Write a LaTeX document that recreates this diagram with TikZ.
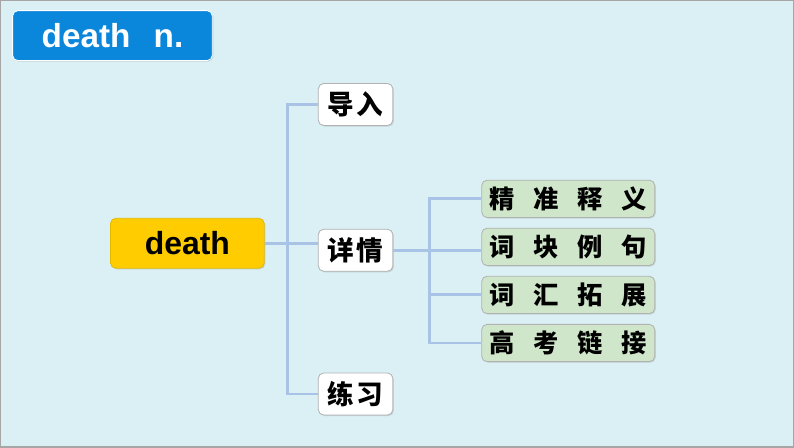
\documentclass[tikz,border=0pt]{standalone}
\usepackage{fontspec}
\setmainfont{Liberation Sans}
\newfontfamily\cjk{Noto Sans CJK SC}
\usetikzlibrary{positioning,shadows}
\definecolor{bgcyan}{HTML}{DAF0F4}
\definecolor{titleblue}{HTML}{0A86DA}
\definecolor{headyellow}{HTML}{FFCC00}
\definecolor{leafgreen}{HTML}{CFE6CA}
\definecolor{linkblue}{HTML}{A9C3E6}

\tikzset{
  boxbase/.style={rounded corners=4pt, draw=gray!60, line width=0.6pt,
    drop shadow={opacity=0.25, shadow xshift=0.8pt, shadow yshift=-0.8pt}},
  titlebox/.style={boxbase, fill=titleblue, draw=white, text=white, minimum width=150pt, minimum height=37.5pt, font=\fontsize{25}{27}\selectfont\bfseries},
  rootbox/.style={boxbase, fill=headyellow, draw=headyellow!90!black, minimum width=115.5pt, minimum height=37.5pt, font=\fontsize{24}{26}\selectfont\bfseries},
  midbox/.style={boxbase, fill=white, minimum width=56pt, minimum height=31.5pt, inner sep=1pt, font=\cjk\fontsize{20}{22}\selectfont\bfseries},
  leafbox/.style={boxbase, fill=leafgreen, minimum width=130pt, minimum height=28pt, inner sep=1pt, font=\cjk\fontsize{19}{21}\selectfont\bfseries},
  link/.style={draw=linkblue, line width=2.2pt}
}

\begin{document}
\begin{tikzpicture}[x=0.75pt, y=-0.75pt, node distance=7.5pt and 0pt]
  \path[fill=bgcyan, draw=gray!70, line width=1pt] (0,0) rectangle (794,447);
  \useasboundingbox (0,0) rectangle (794,447);

  \node[titlebox] (title) at (112,35) {death\hspace{0.7em}n.};

  \node[rootbox] (root) at (187,243) {death};
  \node[midbox] (intro) at (355.5,104) {导\hspace{0.1em}入};
  \node[midbox] (detail) at (355.5,250) {详\hspace{0.1em}情};
  \node[midbox] (practice) at (355.5,394) {练\hspace{0.1em}习};

  \node[leafbox] (meaning) at (568.5,198.5) {精\hspace{0.75em}准\hspace{0.75em}释\hspace{0.75em}义};
  \node[leafbox] (chunk) [below=of meaning] {词\hspace{0.75em}块\hspace{0.75em}例\hspace{0.75em}句};
  \node[leafbox] (expand) [below=of chunk] {词\hspace{0.75em}汇\hspace{0.75em}拓\hspace{0.75em}展};
  \node[leafbox] (exam) [below=of expand] {高\hspace{0.75em}考\hspace{0.75em}链\hspace{0.75em}接};

  % first level
  \coordinate (trunk) at (287,0);
  \draw[link] (intro.west) -| (trunk |- practice.west) -- (practice.west);
  \draw[link] (root.east) -- (root.east -| detail.west);

  % second level
  \coordinate (branch) at (430,0);
  \draw[link] (meaning.west) -| (branch |- exam.west) -- (exam.west);
  \draw[link] (detail.east) -- (detail.east -| chunk.west);
  \draw[link] (branch |- expand.west) -- (expand.west);
\end{tikzpicture}
\end{document}
